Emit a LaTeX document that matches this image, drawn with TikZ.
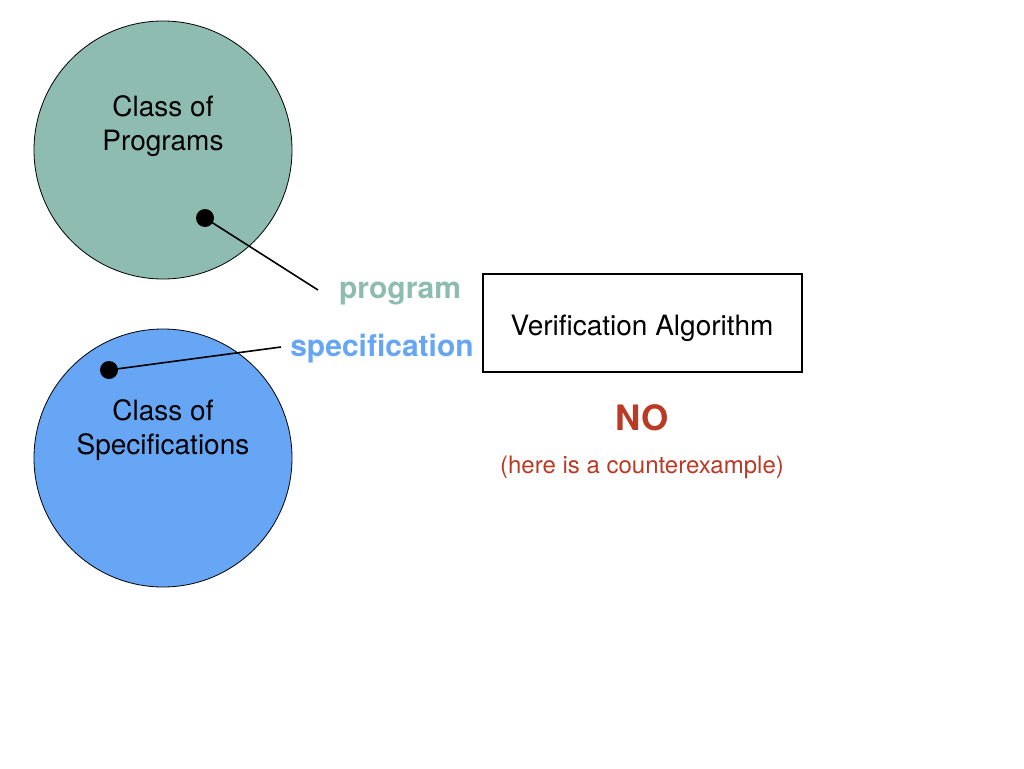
\documentclass[tikz,border=0pt]{standalone}
\usepackage{fontspec}
\setmainfont{TeX Gyre Heros}
\usetikzlibrary{positioning}
\definecolor{progcol}{HTML}{8FBCB0}
\definecolor{speccol}{HTML}{66A6F4}
\definecolor{nocol}{HTML}{BA3A26}

\begin{document}
\begin{tikzpicture}[
  x=1pt, y=-1pt,
  cls/.style={circle, draw, line width=0.8pt, minimum size=258pt, inner sep=0pt},
  lbl/.style={align=center, font=\fontsize{28}{34}\selectfont},
  dot/.style={circle, fill=black, minimum size=18pt, inner sep=0pt},
  link/.style={line width=1.6pt},
  alg/.style={rectangle, draw, line width=1.6pt, minimum width=319pt, minimum height=98pt,
              font=\fontsize{28}{30}\selectfont},
  tag/.style={font=\fontsize{30}{32}\selectfont\bfseries}
]
\useasboundingbox (0,0) rectangle (1024,768);

\node[cls, fill=progcol] (prog) at (163,150) {};
\node[cls, fill=speccol] (spec) at (163,458) {};
\node[lbl] at (163,126) {Class of\\Programs};
\node[lbl] at (163,430) {Class of\\Specifications};

\node[dot] (pdot) at (205,218) {};
\node[dot] (sdot) at (109,370) {};
\coordinate (pend) at (318,290);
\coordinate (send) at (281,347);
\draw[link] (pdot.center) -- (pend);
\draw[link] (sdot.center) -- (send);

\node[tag, text=progcol] (ptag) at (400,294) {program};
\node[tag, text=speccol] (stag) at (382,349) {specification};

\node[alg] (va) at (642.5,323) {};
\node[font=\fontsize{28}{30}\selectfont] at (642,328) {Verification Algorithm};
\node[font=\fontsize{35}{36}\selectfont\bfseries, text=nocol] (no) at (642,418) {NO};
\node[font=\fontsize{24}{26}\selectfont, text=nocol] (cex) at (642,467) {(here is a counterexample)};

\end{tikzpicture}
\end{document}
